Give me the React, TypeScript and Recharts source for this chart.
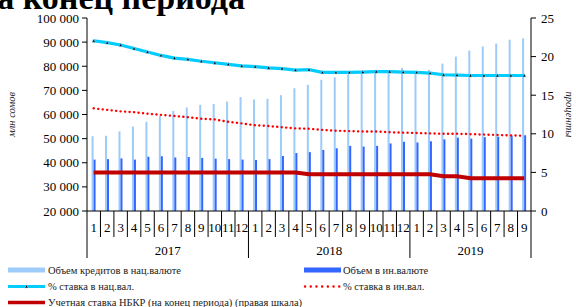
import React from 'react';
import { ComposedChart, Bar, Line, XAxis, YAxis } from 'recharts';

const months = [
    '1', '2', '3', '4', '5', '6', '7', '8', '9', '10', '11', '12',
    '1', '2', '3', '4', '5', '6', '7', '8', '9', '10', '11', '12',
    '1', '2', '3', '4', '5', '6', '7', '8', '9',
];
const years = ['2017', '2018', '2019'];

// объем кредитов, млн сомов
const natVolume = [
    51000, 51200, 53000, 55000, 57000, 59400, 61500, 62900, 64000, 64400, 65400, 67200,
    66200, 66500, 68000, 70900, 72300, 74400, 75400, 76700, 77600, 77800, 78100, 79300,
    78100, 78500, 81100, 84000, 86500, 88200, 89400, 91000, 91600,
];
const forVolume = [
    41300, 41500, 41800, 41300, 42500, 42700, 42200, 42400, 42000, 41700, 41500, 41300,
    41100, 41500, 42800, 44000, 44400, 45300, 46000, 47000, 46700, 47000, 48000, 48700,
    48400, 48900, 49700, 50400, 50000, 50600, 50800, 51200, 51400,
];

// ставки, %
const natRate = [
    22.05, 21.8, 21.5, 21.05, 20.6, 20.15, 19.8, 19.65, 19.4, 19.2, 19.0, 18.8,
    18.7, 18.55, 18.45, 18.25, 18.3, 17.95, 17.95, 17.95, 18.0, 18.05, 18.05, 18.0,
    17.95, 17.85, 17.65, 17.6, 17.55, 17.55, 17.55, 17.55, 17.55,
];
const forRate = [
    13.3, 13.1, 12.9, 12.8, 12.6, 12.45, 12.3, 12.15, 11.95, 11.85, 11.55, 11.35,
    11.1, 11.0, 10.85, 10.7, 10.65, 10.5, 10.4, 10.35, 10.3, 10.3, 10.2, 10.15,
    10.1, 10.05, 10.0, 10.0, 9.95, 9.9, 9.85, 9.8, 9.75,
];
const nbkrRate = [
    5, 5, 5, 5, 5, 5, 5, 5, 5, 5, 5, 5,
    5, 5, 5, 5, 4.75, 4.75, 4.75, 4.75, 4.75, 4.75, 4.75, 4.75,
    4.75, 4.75, 4.5, 4.5, 4.25, 4.25, 4.25, 4.25, 4.25,
];

const volumeTicks = [20000, 30000, 40000, 50000, 60000, 70000, 80000, 90000, 100000];
const rateTicks = [0, 5, 10, 15, 20, 25];

const data = months.map((m, i) => ({
    month: m,
    year: years[Math.floor(i / 12)],
    nat: natVolume[i],
    foreign: forVolume[i],
    natRate: natRate[i],
    forRate: forRate[i],
    nbkr: nbkrRate[i],
}));

const serif = '"Liberation Serif", "Times New Roman", serif';

const fmtThousands = (v: number) => String(v).replace(/\B(?=(\d{3})+(?!\d))/g, ' ');

function MonthTick(props: any) {
    const { x, y, index, payload } = props;
    const half = payload && payload.offset ? payload.offset : 6.7;
    const row = data[index];
    const firstOfYear = index === 0 || data[index - 1].year !== row.year;
    const isLast = index === data.length - 1;
    const count = data.filter((d) => d.year === row.year).length;
    return (
        <g>
            <line x1={x - half} y1={y} x2={x - half} y2={y + (firstOfYear ? 47 : 26)} stroke="#000" strokeWidth={1} />
            {isLast && <line x1={x + half} y1={y} x2={x + half} y2={y + 47} stroke="#000" strokeWidth={1} />}
            <text x={x} y={y + 21} textAnchor="middle" fontFamily={serif} fontSize={13} fill="#000">
                {payload.value}
            </text>
            {firstOfYear && (
                <text x={x - half + count * half} y={y + 44} textAnchor="middle" fontFamily={serif} fontSize={13} fill="#000">
                    {row.year}
                </text>
            )}
        </g>
    );
}

function TriangleDot(props: any) {
    const { cx, cy } = props;
    if (cx == null || cy == null) return null;
    return <path d={`M${cx - 1.8},${cy + 1.4}L${cx + 1.8},${cy + 1.4}L${cx},${cy - 1.8}Z`} fill="#000" stroke="#7fe9ff" strokeWidth={0.6} />;
}

function ChartLegend() {
    const txt = { fontFamily: serif, fontSize: 10.5, fill: '#222' };
    return (
        <svg width={576} height={50} style={{ position: 'absolute', left: 0, top: 257 }}>
            <rect x={8} y={10.5} width={37} height={5} fill="#9dcbfa" />
            <text x={48} y={16.5} {...txt}>Объем кредитов в нац.валюте</text>
            <rect x={304} y={10.5} width={37} height={5} fill="#3366ff" />
            <text x={343} y={16.5} {...txt}>Объем в ин.валюте</text>

            <line x1={8} y1={29.5} x2={45} y2={29.5} stroke="#00ccff" strokeWidth={3} />
            <TriangleDot cx={26.5} cy={29.5} />
            <text x={48} y={33} {...txt}>% ставка в нац.вал.</text>
            <line x1={305} y1={29.5} x2={341} y2={29.5} stroke="#ff0000" strokeWidth={2.4} strokeDasharray="0.1 5.6" strokeLinecap="round" />
            <text x={343} y={33} {...txt}>% ставка в ин.вал.</text>

            <line x1={8} y1={45.5} x2={45} y2={45.5} stroke="#c00000" strokeWidth={3.5} />
            <text x={48} y={48.5} {...txt}>Учетная ставка НБКР (на конец периода) (правая шкала)</text>
        </svg>
    );
}

export default function App() {
    return (
        <div style={{ position: 'absolute', left: 0, top: 0, width: 576, height: 307, background: '#fff', overflow: 'hidden' }}>
            <svg width={576} height={20} style={{ position: 'absolute', left: 0, top: 0 }}>
                <text x={245} y={9} textAnchor="end" fontFamily={serif} fontWeight="bold" fontSize={34} fill="#000">
                    на конец периода
                </text>
            </svg>
            <ComposedChart
                width={576}
                height={307}
                data={data}
                margin={{ top: 18, right: 0, left: 0, bottom: 46 }}
                barCategoryGap="34%"
                barGap={0}
            >
                <XAxis
                    dataKey="month"
                    interval={0}
                    height={50}
                    tickLine={false}
                    tickSize={0}
                    tickMargin={0}
                    axisLine={{ stroke: '#000' }}
                    tick={<MonthTick />}
                />
                <YAxis
                    yAxisId="left"
                    orientation="left"
                    width={87}
                    domain={[20000, 100000]}
                    ticks={volumeTicks}
                    allowDataOverflow
                    tickFormatter={fmtThousands}
                    axisLine={{ stroke: '#000' }}
                    tickLine={{ stroke: '#000' }}
                    tickSize={5}
                    tickMargin={3}
                    tick={{ fill: '#000', fontFamily: serif, fontSize: 13 }}
                    label={{
                        value: 'млн сомов',
                        angle: -90,
                        position: 'insideLeft',
                        offset: 11,
                        style: { fontFamily: serif, fontStyle: 'italic', fontSize: 10.5, fill: '#222', textAnchor: 'middle' },
                    }}
                />
                <YAxis
                    yAxisId="right"
                    orientation="right"
                    width={45}
                    domain={[0, 25]}
                    ticks={rateTicks}
                    axisLine={{ stroke: '#000' }}
                    tickLine={{ stroke: '#000' }}
                    tickSize={5}
                    tickMargin={5}
                    tick={{ fill: '#000', fontFamily: serif, fontSize: 13 }}
                    label={{
                        value: 'проценты',
                        angle: 90,
                        position: 'insideRight',
                        offset: 6,
                        style: { fontFamily: serif, fontStyle: 'italic', fontSize: 10.5, fill: '#222', textAnchor: 'middle' },
                    }}
                />
                <Bar yAxisId="left" dataKey="nat" fill="#9dcbfa" isAnimationActive={false} />
                <Bar yAxisId="left" dataKey="foreign" fill="#3366ff" isAnimationActive={false} />
                <Line
                    yAxisId="right"
                    dataKey="natRate"
                    stroke="#00ccff"
                    strokeWidth={3.2}
                    dot={<TriangleDot />}
                    type="linear"
                    isAnimationActive={false}
                />
                <Line
                    yAxisId="right"
                    dataKey="forRate"
                    stroke="#ff0000"
                    strokeWidth={2.4}
                    strokeDasharray="0.1 4.4"
                    strokeLinecap="round"
                    dot={false}
                    type="linear"
                    isAnimationActive={false}
                />
                <Line
                    yAxisId="right"
                    dataKey="nbkr"
                    stroke="#c00000"
                    strokeWidth={4}
                    dot={false}
                    type="linear"
                    isAnimationActive={false}
                />
            </ComposedChart>
            <ChartLegend />
        </div>
    );
}
